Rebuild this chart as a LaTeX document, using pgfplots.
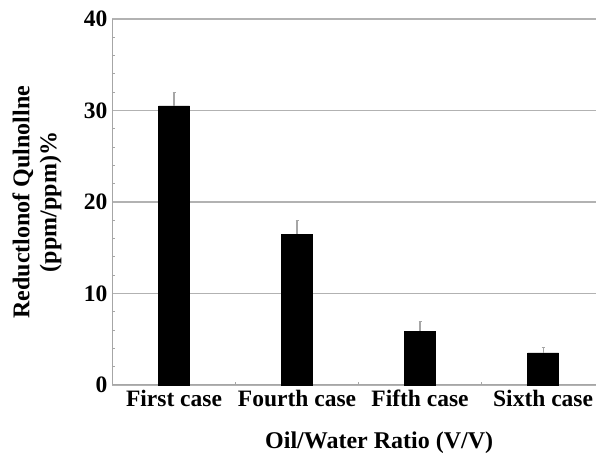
\documentclass[border=0pt]{standalone}
\usepackage{pgfplots}
\pgfplotsset{compat=1.18}
\usepackage{fontspec}
\setmainfont{Liberation Serif}
\begin{document}
\begin{tikzpicture}
\useasboundingbox (-112pt,-69pt) rectangle (484pt,385pt);
\begin{axis}[
  at={(0,0)}, anchor=south west,
  scale only axis, width=484pt, height=366pt,
  xmin=-0.504, xmax=3.43, ymin=0, ymax=40,
  xtick={0,1,2,3},
  xticklabels={First case, Fourth case, Fifth case, Sixth case},
  minor xtick={0.5,1.5,2.5},
  ytick={0,10,20,30,40},
  minor y tick num=4,
  ymajorgrids,
  major grid style={draw=gray!60, line width=1.5pt},
  axis x line*=bottom, axis y line*=left,
  axis line style={draw=gray!70, line width=1pt, -},
  tick style={draw=gray!70, line width=0.8pt},
  major tick length=0pt, minor tick length=3pt,
  tick align=inside,
  /pgf/number format/assume math mode=true,
  ticklabel style={font=\fontsize{23.5}{26}\selectfont\bfseries},
  xticklabel style={anchor=north, text height=16pt, text depth=5pt, yshift=-2pt},
  yticklabel style={xshift=-1pt},
  xlabel={Oil/Water Ratio (V/V)},
  ylabel={Reductlonof Qulnollne\\(ppm/ppm)\%},
  label style={font=\fontsize{24}{27}\selectfont\bfseries},
  ylabel style={align=center, at={(axis description cs:-0.155,0.5)}, anchor=center},
  xlabel style={at={(axis description cs:0.552,0)}, anchor=center, yshift=-58pt},
  clip=false,
]
\addplot[ybar, bar width=31pt, fill=black, draw=black,
  error bars/.cd, y dir=plus, y explicit,
  error bar style={draw=gray!70, line width=1.2pt},
  error mark options={draw=gray!70, line width=1.2pt, mark size=1.5pt, rotate=90}]
  coordinates {
  (0,30.5) +- (0,1.5)
  (1,16.5) +- (0,1.5)
  (2,5.9) +- (0,1.0)
  (3,3.5) +- (0,0.6)
};
\end{axis}
\end{tikzpicture}
\end{document}
